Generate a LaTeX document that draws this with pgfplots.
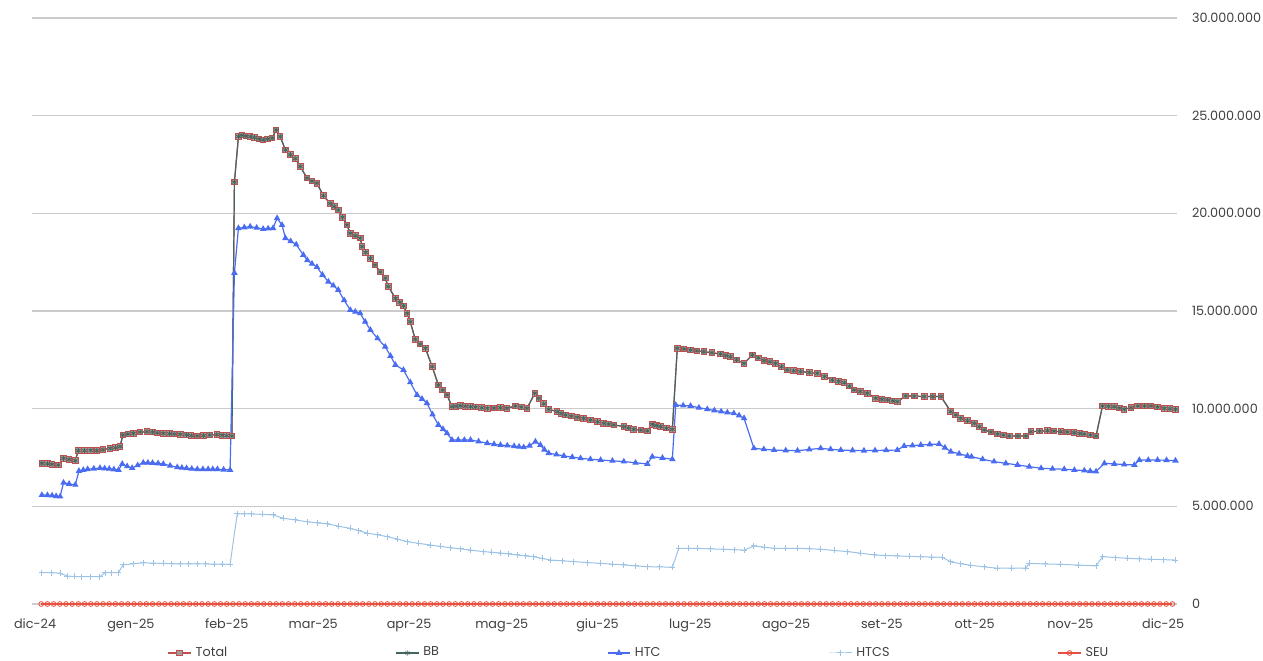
\documentclass[border=0pt]{standalone}
\usepackage{fontspec}
\setmainfont{Poppins}
\usepackage{pgfplots}
\pgfplotsset{compat=1.18}
\usepackage{pgfplotstable}

\definecolor{totalred}{HTML}{C0504D}
\definecolor{bbteal}{HTML}{44665E}
\definecolor{htcblue}{HTML}{4A6CF0}
\definecolor{htcsblue}{HTML}{9DC3E6}
\definecolor{seured}{HTML}{E8503F}
\definecolor{gridgray}{HTML}{CBCBCB}
\definecolor{labelgray}{HTML}{404040}

% giorni dal 1 dic 2024, valori in milioni
\pgfplotstableread{
d v
2.2 7.20
4 7.18
5.5 7.15
7.5 7.12
9.2 7.46
11 7.40
13 7.34
14 7.85
16 7.85
18 7.87
20 7.85
22 7.90
24.3 7.97
26 8.00
27.5 8.06
28.4 8.65
30 8.70
31.8 8.74
34 8.80
36.2 8.82
38 8.80
39.5 8.76
41.5 8.74
43.5 8.72
45 8.70
47 8.69
49 8.66
50.5 8.62
52.4 8.60
54.5 8.62
56.5 8.65
58.8 8.67
60.5 8.64
62 8.62
63.7 8.60
64.5 21.60
65.8 23.93
66.9 24.00
68.2 23.95
69.6 23.93
71 23.88
72.5 23.80
73.8 23.76
75.2 23.80
76.7 23.85
78 24.27
79.3 23.93
81 23.25
82.6 23.00
84.2 22.80
85.8 22.40
88 21.80
89.6 21.65
91.2 21.54
93.3 20.90
95.5 20.50
96.8 20.35
98.1 20.17
99.5 19.80
100.9 19.40
102 18.98
103.6 18.85
105.2 18.73
105.8 18.30
107 18.00
108.5 17.70
110 17.35
111.7 17.00
113.3 16.68
114.3 16.25
116.6 15.65
118 15.45
119.2 15.26
120.4 14.88
121.4 14.45
123 13.55
124.6 13.30
126.3 13.09
128.5 12.15
130.5 11.21
131.9 10.95
133.3 10.70
134.9 10.10
136.2 10.12
137.6 10.15
139.2 10.12
140.9 10.10
142.5 10.08
144.5 10.05
146.3 10.02
148.5 10.03
150.6 10.05
152.7 10.02
155.4 10.14
157.3 10.08
159.2 10.02
161.7 10.79
163 10.53
164.6 10.25
166.2 9.97
168.9 9.85
170.2 9.76
171.6 9.68
173.5 9.62
175.4 9.56
177.5 9.50
179.7 9.42
182 9.33
184 9.25
185.6 9.21
187.3 9.17
190.5 9.08
192 9.01
193.7 8.94
196 8.90
198.1 8.86
199.7 9.20
201 9.14
202.4 9.08
204.3 9.00
206.2 8.94
207.8 13.09
210 13.05
212.1 13.00
214.2 12.96
216.4 12.92
219 12.86
221.8 12.80
223.5 12.72
225 12.66
227 12.50
229.4 12.32
232.1 12.75
234 12.60
235.9 12.46
237.8 12.40
239.6 12.32
241.5 12.15
243.4 11.98
245.5 11.94
247.7 11.90
250.5 11.85
253.1 11.81
255.5 11.65
258 11.47
260 11.40
261.8 11.33
263.5 11.15
265 10.96
267 10.88
269.3 10.79
272 10.53
274 10.48
275.8 10.45
277.5 10.40
279 10.36
281.7 10.65
284.5 10.64
287.7 10.62
290.5 10.62
293.1 10.62
296.3 9.85
297.9 9.68
299.5 9.51
301.7 9.38
303.9 9.25
305.5 9.08
307.1 8.91
309.3 8.80
311.4 8.70
313.3 8.65
315.2 8.60
318 8.60
320.6 8.60
322.2 8.82
325 8.85
327.6 8.87
329.7 8.85
331.9 8.82
334 8.80
336.2 8.77
338 8.73
339.5 8.70
341.5 8.65
343.3 8.60
345.4 10.14
347.3 10.12
349.2 10.10
350.8 10.03
352.4 9.97
354.6 10.05
356.8 10.14
359 10.14
361.1 10.14
363.2 10.08
365.4 10.02
367.2 10.00
369 9.97
}\totaldata

\pgfplotstableread{
d v
2.2 5.58
4 5.57
5.5 5.55
6.8 5.52
8.1 5.50
9.2 6.21
11 6.15
13 6.10
14.2 6.81
15.6 6.86
17 6.90
19 6.93
21 6.96
22.5 6.94
24 6.92
25.5 6.89
27 6.86
28.2 7.17
29.8 7.05
31.4 6.96
33.2 7.10
35 7.23
36.5 7.23
38 7.22
39.8 7.20
41.5 7.17
43.7 7.08
46 7.00
47.5 6.97
49 6.95
50.7 6.92
52.5 6.90
54.3 6.90
56 6.90
57.5 6.90
59 6.90
61 6.88
63.1 6.86
64.5 16.95
65.8 19.24
67.7 19.28
69.6 19.32
71.7 19.26
73.8 19.20
75.4 19.22
77 19.24
78.3 19.75
79.9 19.40
81 18.73
82.7 18.57
84.5 18.40
86.8 17.87
88.1 17.60
89.6 17.42
91.2 17.25
93 16.85
94.9 16.50
96.5 16.30
98.1 16.08
100 15.55
102 15.05
103.6 14.96
105.2 14.88
106.8 14.45
108.5 14.03
110.8 13.60
113.3 13.17
115 12.70
116.6 12.24
119.2 11.98
121.4 11.35
123.6 10.70
125.2 10.50
126.8 10.28
128.6 9.70
130.5 9.17
132 8.95
133.3 8.74
134.9 8.40
136.9 8.40
138.9 8.40
140.9 8.40
143.5 8.32
146.3 8.23
148.5 8.18
150.6 8.14
152.8 8.11
155 8.08
156.6 8.05
158.1 8.02
160 8.10
161.9 8.31
163.5 8.14
164.8 7.90
166.2 7.72
168.7 7.65
171.1 7.58
173.8 7.52
176.5 7.46
179.7 7.41
183 7.37
186.8 7.33
190.5 7.29
194.3 7.23
198.1 7.17
199.7 7.54
203 7.48
206.2 7.41
207.3 10.19
209.7 10.16
212.1 10.14
214.8 10.05
217.5 9.97
219.8 9.91
222 9.85
224 9.80
226.1 9.76
227.8 9.65
229.4 9.51
232.6 7.97
235.8 7.92
239.1 7.88
242.9 7.86
246.7 7.85
250.5 7.91
254.2 7.97
257.4 7.92
260.7 7.88
264.5 7.86
268.2 7.85
271.8 7.86
275.4 7.87
279 7.88
281.2 8.09
283.9 8.11
286.6 8.14
289.5 8.17
292.5 8.19
294.4 8.00
296.3 7.80
299 7.69
301.7 7.58
303 7.54
306.6 7.41
310.3 7.29
314.1 7.20
317.9 7.12
321.7 7.03
325.5 6.95
329.2 6.92
333 6.90
336.3 6.86
339.5 6.83
341.4 6.80
343.3 6.78
346 7.20
349.2 7.17
352.4 7.14
355.7 7.12
357.3 7.37
360.2 7.37
363.2 7.37
366.1 7.36
369 7.34
}\htcdata

\pgfplotstableread{
d v
2.2 1.60
5.2 1.60
8.1 1.58
10.4 1.43
12.7 1.41
15 1.40
18 1.40
21 1.40
22.7 1.60
24.8 1.60
26.9 1.60
28.5 2.00
31.8 2.06
35 2.11
38.3 2.09
41.5 2.08
44.3 2.06
47 2.05
49.8 2.05
52.5 2.05
55.3 2.05
58 2.04
60.5 2.04
63.1 2.03
65.4 4.61
67.7 4.61
70 4.61
73.5 4.59
77 4.56
80.3 4.39
84.2 4.30
88.1 4.21
91.4 4.15
94.6 4.10
98.3 3.98
102 3.87
104.8 3.75
107.5 3.63
110.8 3.54
114 3.45
117.3 3.32
120.5 3.19
124.2 3.10
127.9 3.02
131.2 2.95
134.4 2.88
137.7 2.82
140.9 2.76
145 2.68
147.8 2.65
150.6 2.61
153.3 2.56
156 2.51
158.7 2.46
161.4 2.42
164.1 2.33
166.8 2.25
170.5 2.21
174.3 2.17
178.7 2.12
183 2.08
186.8 2.04
190.5 2.00
194.3 1.95
198.1 1.91
202.2 1.90
206.2 1.88
208.3 2.85
211.3 2.85
214.3 2.85
218.6 2.82
222.9 2.80
226.2 2.78
229.4 2.76
232.6 2.97
235.9 2.91
239.1 2.85
242.9 2.85
246.7 2.85
250.5 2.83
254.2 2.80
258.6 2.74
262.9 2.68
267.2 2.60
271.5 2.51
275.3 2.48
279 2.46
282.8 2.44
286.6 2.42
290.1 2.40
293.6 2.39
296.3 2.15
299.6 2.06
302.8 1.98
307.1 1.90
311.4 1.83
316 1.83
320.6 1.83
321.7 2.08
326.8 2.05
331.9 2.03
337.6 1.99
343.3 1.95
345.4 2.42
349.5 2.38
353.5 2.34
357.3 2.31
361.1 2.29
365 2.27
369 2.25
}\htcsdata

\begin{document}
\begin{tikzpicture}
\begin{axis}[
  scale only axis,
  width=572.5pt, height=293pt,
  xmin=-1, xmax=369.5,
  ymin=0, ymax=30,
  xtick={0,31,62,90,121,151,182,212,243,274,304,335,365},
  xticklabels={dic-24,gen-25,feb-25,mar-25,apr-25,mag-25,giu-25,lug-25,ago-25,set-25,ott-25,nov-25,dic-25},
  ytick={0,5,10,15,20,25,30},
  yticklabels={0,5.000.000,10.000.000,15.000.000,20.000.000,25.000.000,30.000.000},
  yticklabel pos=right,
  yticklabel style={anchor=west, xshift=4pt},
  xticklabel style={yshift=-4pt},
  ticklabel style={font=\fontsize{6.4}{8}\selectfont, text=labelgray},
  ymajorgrids=true,
  major grid style={gridgray, line width=0.6pt},
  tick style={draw=none},
  axis line style={draw=none},
  clip=false,
  legend columns=5,
  legend style={at={(0.531,0)}, anchor=center, yshift=-24.5pt, draw=none, fill=none,
    font=\fontsize{6.4}{7}\selectfont, text=labelgray, inner sep=1pt,
    /tikz/every even column/.append style={column sep=82pt}},
  legend image code/.code={\draw[mark repeat=2,mark phase=2] plot coordinates {(0cm,0cm) (0.2cm,0cm) (0.4cm,0cm)};},
  every axis plot/.append style={line width=0.6pt},
]

\addplot [totalred, mark=square*, mark size=1.4pt, mark options={fill=gray!75, draw=totalred, line width=0.5pt}]
  table [x=d, y=v] {\totaldata};
\addlegendentry{Total}

\addplot [bbteal, mark=asterisk, mark size=1.3pt, mark options={bbteal, line width=0.4pt}]
  table [x=d, y=v] {\totaldata};
\addlegendentry{BB}

\addplot [htcblue, mark=triangle*, mark size=1.3pt, mark options={fill=htcblue}]
  table [x=d, y=v] {\htcdata};
\addlegendentry{HTC}

\addplot [htcsblue, mark=+, mark size=1.5pt, line width=0.5pt]
  table [x=d, y=v] {\htcsdata};
\addlegendentry{HTCS}

\addplot [seured, mark=o, mark size=1.2pt, mark options={line width=0.4pt}]
  coordinates {
  (2,0)(4,0)(6,0)(8,0)(10,0)(12,0)(14,0)(16,0)(18,0)(20,0)(22,0)(24,0)(26,0)(28,0)(30,0)
  (32,0)(34,0)(36,0)(38,0)(40,0)(42,0)(44,0)(46,0)(48,0)(50,0)(52,0)(54,0)(56,0)(58,0)
  (60,0)(62,0)(64,0)(66,0)(68,0)(70,0)(72,0)(74,0)(76,0)(78,0)(80,0)(82,0)(84,0)(86,0)
  (88,0)(90,0)(92,0)(94,0)(96,0)(98,0)(100,0)(102,0)(104,0)(106,0)(108,0)(110,0)(112,0)
  (114,0)(116,0)(118,0)(120,0)(122,0)(124,0)(126,0)(128,0)(130,0)(132,0)(134,0)(136,0)
  (138,0)(140,0)(142,0)(144,0)(146,0)(148,0)(150,0)(152,0)(154,0)(156,0)(158,0)(160,0)
  (162,0)(164,0)(166,0)(168,0)(170,0)(172,0)(174,0)(176,0)(178,0)(180,0)(182,0)(184,0)
  (186,0)(188,0)(190,0)(192,0)(194,0)(196,0)(198,0)(200,0)(202,0)(204,0)(206,0)(208,0)
  (210,0)(212,0)(214,0)(216,0)(218,0)(220,0)(222,0)(224,0)(226,0)(228,0)(230,0)(232,0)
  (234,0)(236,0)(238,0)(240,0)(242,0)(244,0)(246,0)(248,0)(250,0)(252,0)(254,0)(256,0)
  (258,0)(260,0)(262,0)(264,0)(266,0)(268,0)(270,0)(272,0)(274,0)(276,0)(278,0)(280,0)
  (282,0)(284,0)(286,0)(288,0)(290,0)(292,0)(294,0)(296,0)(298,0)(300,0)(302,0)(304,0)
  (306,0)(308,0)(310,0)(312,0)(314,0)(316,0)(318,0)(320,0)(322,0)(324,0)(326,0)(328,0)
  (330,0)(332,0)(334,0)(336,0)(338,0)(340,0)(342,0)(344,0)(346,0)(348,0)(350,0)(352,0)
  (354,0)(356,0)(358,0)(360,0)(362,0)(364,0)(366,0)(368,0)
  };
\addlegendentry{SEU}

\coordinate (bl) at (rel axis cs:0,0);
\coordinate (tr) at (rel axis cs:1,1);
\end{axis}
\pgfresetboundingbox
\useasboundingbox ([shift={(-16pt,-28.5pt)}]bl) rectangle ([shift={(43pt,9pt)}]tr);
\end{tikzpicture}
\end{document}
